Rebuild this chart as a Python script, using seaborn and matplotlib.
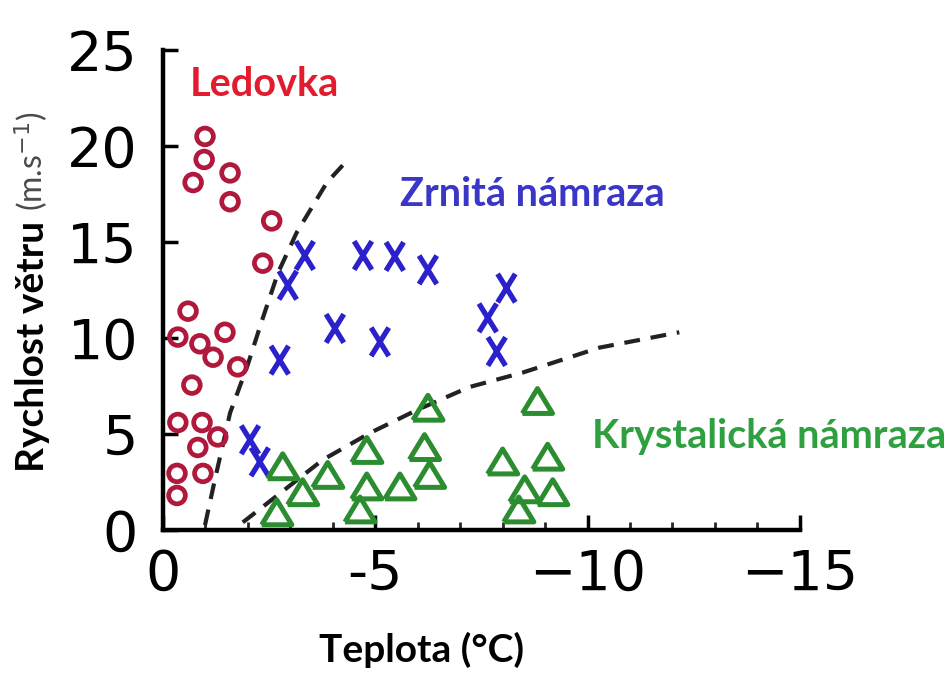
import matplotlib
matplotlib.use("Agg")
import matplotlib.pyplot as plt
from matplotlib.path import Path
import seaborn as sns

# Ledovka (glaze) - open circles
led_t = [-0.99, -0.97, -0.71, -1.58, -1.58, -2.56, -2.35, -0.59, -0.35, -0.87, -1.46,
         -1.18, -1.76, -0.68, -0.35, -0.92, -1.29, -0.82, -0.33, -0.94, -0.33]
led_v = [20.5, 19.3, 18.1, 18.6, 17.1, 16.1, 13.9, 11.4, 10.05, 9.7, 10.3,
         9.0, 8.5, 7.55, 5.6, 5.6, 4.85, 4.3, 2.95, 2.95, 1.8]

# Zrnitá námraza (rime) - crosses
zrn_t = [-3.34, -2.94, -4.71, -5.46, -6.24, -8.09, -7.65, -7.86, -4.05, -5.11, -2.75, -2.05, -2.28]
zrn_v = [14.3, 12.75, 14.3, 14.25, 13.55, 12.6, 11.05, 9.3, 10.5, 9.8, 8.85, 4.7, 3.55]

# Krystalická námraza - triangles
kry_t = [-6.24, -4.80, -6.16, -6.28, -2.82, -3.88, -4.80, -5.58, -3.29, -2.68, -4.64,
         -8.0, -8.82, -9.06, -8.52, -9.18, -8.38]
kry_v = [6.35, 4.15, 4.3, 2.85, 3.3, 2.85, 2.25, 2.25, 1.95, 0.9, 1.05,
         3.55, 6.7, 3.8, 2.1, 1.95, 1.05]

# dashed boundaries
b1_t = [-0.99, -1.22, -1.58, -1.98, -2.33, -2.71, -3.15, -3.86, -4.40]
b1_v = [0.26, 2.6, 6.1, 8.5, 10.9, 13.4, 15.5, 18.1, 19.4]
b2_t = [-1.88, -2.75, -3.76, -4.87, -5.98, -7.22, -8.47, -10.28, -12.16]
b2_v = [0.4, 1.9, 3.65, 5.05, 6.25, 7.45, 8.2, 9.5, 10.3]

x_ticks = [0, -5, -10, -15]
x_labels = ["0", "-5", "\u221210", "\u221215"]
y_ticks = [0, 5, 10, 15, 20, 25]

sns.set_theme(style="ticks")
plt.rcParams['font.family'] = ['DejaVu Sans']

fig = plt.figure(figsize=(9.52, 6.79), dpi=100)
ax = fig.add_axes([0.1712, 0.2194, 0.669, 0.7069])

c_led = "#b0193c"
c_zrn = "#2a20cc"
c_kry = "#2c8c30"

# slightly taller-than-wide cross, wider-than-tall triangle (as in the scan)
cross = Path([(-0.62, -1), (0.62, 1), (-0.62, 1), (0.62, -1)],
             [Path.MOVETO, Path.LINETO, Path.MOVETO, Path.LINETO])
tri = [(-1, -0.8), (1, -0.8), (0, 0.85), (-1, -0.8)]

for t, v in [(b1_t, b1_v), (b2_t, b2_v)]:
    sns.lineplot(x=t, y=v, sort=False, color="#222222", linestyle=(0, (3.8, 2.6)),
                 linewidth=3, ax=ax)

sns.scatterplot(x=led_t, y=led_v, marker="o", s=145, color=c_led, facecolor="none",
                edgecolor=c_led, linewidth=3.4, ax=ax, zorder=3)
sns.scatterplot(x=zrn_t, y=zrn_v, marker=cross, s=420, color=c_zrn, facecolor="none",
                edgecolor=c_zrn, linewidth=3.8, ax=ax, zorder=3)
sns.scatterplot(x=kry_t, y=kry_v, marker=tri, s=470, color=c_kry, facecolor="none",
                edgecolor=c_kry, linewidth=3.6, ax=ax, zorder=3)

ax.set_xlim(0, -15)
ax.set_ylim(0, 25)
ax.set_xticks(x_ticks)
ax.set_xticks(range(0, -16, -1), minor=True)
ax.set_yticks(y_ticks)
ax.set_xticklabels(x_labels)
ax.tick_params(axis="both", which="major", direction="in", length=11, width=2.5,
               labelsize=40, colors="black")
ax.tick_params(axis="x", which="major", pad=13)
ax.tick_params(axis="y", which="major", pad=18)
ax.tick_params(axis="x", which="minor", direction="in", length=6, width=2, bottom=True)
sns.despine(ax=ax)
for sp in ["left", "bottom"]:
    ax.spines[sp].set_linewidth(3.2)
    ax.spines[sp].set_color("black")
ax.set_xlabel("")
ax.set_ylabel("")

txt_font = ["Lato", "DejaVu Sans"]
ax.text(-0.64, 23.2, "Ledovka", color="#e31b2e", fontsize=28.5, fontweight="bold",
        family=txt_font, va="center", ha="left")
ax.text(-5.58, 17.45, "Zrnitá námraza", color="#3a36c8", fontsize=28.5, fontweight="bold",
        family=txt_font, va="center", ha="left")
ax.text(-10.1, 4.85, "Krystalická námraza", color="#2fa040", fontsize=28.5, fontweight="bold",
        family=txt_font, va="center", ha="left", clip_on=False)

fig.text(422 / 952, 1 - 650 / 679, "Teplota (°C)", fontsize=28, fontweight="bold",
         color="black", family=txt_font, ha="center", va="center")
fig.text(33 / 952, 1 - 472 / 679, "Rychlost větru", fontsize=28, fontweight="bold",
         color="black", family=txt_font, rotation=90, ha="center", va="bottom")
fig.text(31 / 952, 1 - 211 / 679, "(m.s$^{-1}$)", fontsize=23, color="#4a4a4a",
         family=txt_font, rotation=90, ha="center", va="bottom")

fig.savefig("out.png", dpi=100)
